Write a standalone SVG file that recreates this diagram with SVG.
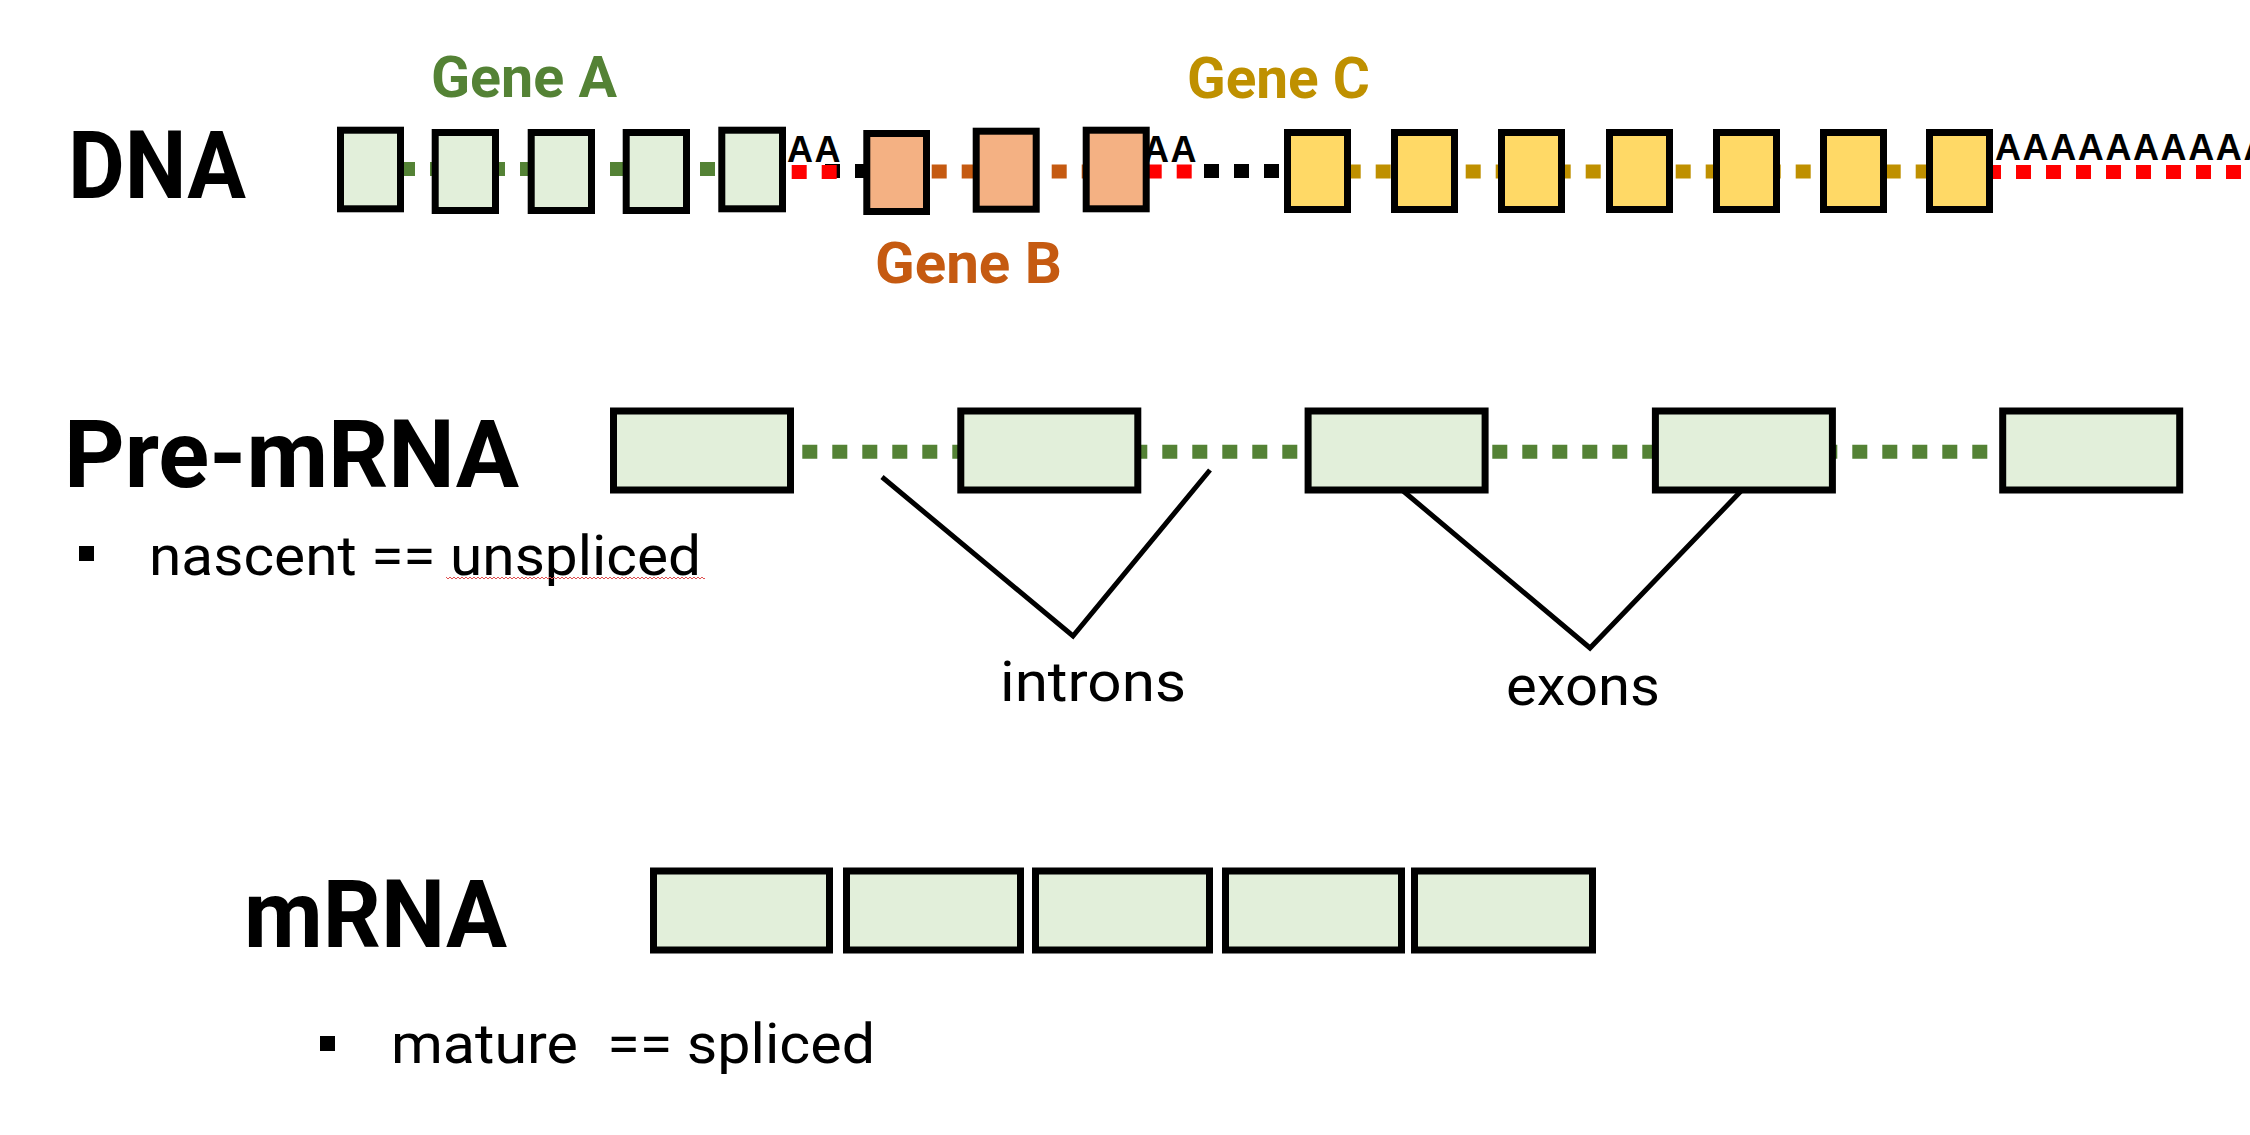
<svg xmlns="http://www.w3.org/2000/svg" width="2250" height="1135" viewBox="0 0 2250 1135">
<defs>
<style>
.bg{fill:#ffffff}
.box{stroke:#000000;stroke-width:7}
.ga{fill:#E2EFDA}
.gb{fill:#F4B183}
.gc{fill:#FFD966}
.dash{stroke-width:14;stroke-dasharray:15 15;fill:none}
.dgreen{stroke:#548235}
.dorange{stroke:#C55A11}
.dyellow{stroke:#BF9000}
.dred{stroke:#FF0000}
.dblack{stroke:#000000}
.vline{stroke:#000000;stroke-width:5;fill:none;stroke-linejoin:miter;stroke-miterlimit:20}
.head{font-family:Roboto,"Liberation Sans",sans-serif;font-weight:bold;font-size:94px;fill:#000000}
.gene{font-family:Roboto,"Liberation Sans",sans-serif;font-weight:bold;font-size:58px}
.poly{font-family:"Liberation Sans",Arial,sans-serif;font-weight:bold;font-size:36px;fill:#000000;letter-spacing:1.6px}
.body{font-family:Roboto,"Liberation Sans",sans-serif;font-size:56px;fill:#000000}
</style>
<pattern id="wavy" x="0" y="0" width="4" height="4" patternUnits="userSpaceOnUse">
<path d="M0,3 L2,1 L4,3" stroke="#E05050" stroke-width="1" fill="none"/>
</pattern>
</defs>
<rect class="bg" x="0" y="0" width="2250" height="1135"/>

<g id="connectors">
<line class="dash dgreen" x1="400" y1="169" x2="716" y2="169"/>
<line class="dash dblack" x1="825" y1="171" x2="870" y2="171"/>
<line class="dash dred" x1="791.7" y1="172" x2="836.7" y2="172"/>
<line class="dash dorange" x1="931.7" y1="171.5" x2="1096.7" y2="171.5"/>
<line class="dash dblack" x1="1204" y1="171" x2="1293" y2="171"/>
<line class="dash dred" x1="1146.7" y1="171.5" x2="1191.7" y2="171.5"/>
<line class="dash dyellow" x1="1285.7" y1="171.5" x2="1930.7" y2="171.5"/>
<line class="dash dred" x1="1986" y1="172" x2="2250" y2="172"/>
<line class="dash dgreen" x1="802.3" y1="451.7" x2="1990" y2="451.7"/>
<polyline class="vline" points="882,477 1073,636 1210,470"/>
<polyline class="vline" points="1402,490 1590,648 1742,490"/>
</g>

<g id="labels">
<text id="lbl-dna" class="head" x="68" y="198" textLength="178" lengthAdjust="spacingAndGlyphs">DNA</text>
<text id="lbl-premrna" class="head" x="64" y="487" textLength="455" lengthAdjust="spacingAndGlyphs">Pre-mRNA</text>
<text id="lbl-mrna" class="head" x="244" y="947" textLength="263" lengthAdjust="spacingAndGlyphs">mRNA</text>
<text id="lbl-genea" class="gene" x="431" y="97" fill="#548235" textLength="186" lengthAdjust="spacingAndGlyphs">Gene A</text>
<text id="lbl-geneb" class="gene" x="875" y="283" fill="#C55A11" textLength="187" lengthAdjust="spacingAndGlyphs">Gene B</text>
<text id="lbl-genec" class="gene" x="1187" y="98" fill="#BF9000" textLength="183" lengthAdjust="spacingAndGlyphs">Gene C</text>
<rect x="79" y="546" width="15" height="15" fill="#000000"/>
<text class="body" x="149" y="575" textLength="552" lengthAdjust="spacingAndGlyphs">nascent == unspliced</text>
<rect x="446" y="577" width="259" height="4" fill="url(#wavy)"/>
<text class="body" x="1000" y="701" textLength="186" lengthAdjust="spacingAndGlyphs">introns</text>
<text class="body" x="1506" y="705" textLength="154" lengthAdjust="spacingAndGlyphs">exons</text>
<rect x="320" y="1036" width="15" height="15" fill="#000000"/>
<text class="body" x="391" y="1063" font-size="55" xml:space="preserve" textLength="484" lengthAdjust="spacingAndGlyphs">mature  == spliced</text>
</g>

<g id="polyA">
<text class="poly" x="787" y="161.5">AA</text>
<text class="poly" x="1143" y="161.5">AA</text>
<text class="poly" x="1995" y="160">AAAAAAAAAA</text>
</g>

<g id="gene-a">
<rect class="box ga" x="340.5" y="130.2" width="60" height="78.6"/>
<rect class="box ga" x="435.2" y="132.5" width="60.3" height="78"/>
<rect class="box ga" x="531.2" y="132.5" width="60.3" height="78"/>
<rect class="box ga" x="626.2" y="132.5" width="60.3" height="78"/>
<rect class="box ga" x="721.8" y="130.2" width="60.7" height="78.6"/>
</g>

<g id="gene-b">
<rect class="box gb" x="866.8" y="133.5" width="59.7" height="78"/>
<rect class="box gb" x="976.2" y="131.2" width="60" height="78"/>
<rect class="box gb" x="1086.2" y="130.2" width="60" height="78.6"/>
</g>

<g id="gene-c">
<rect class="box gc" x="1287.5" y="132.5" width="60" height="77"/>
<rect class="box gc" x="1394.5" y="132.5" width="60" height="77"/>
<rect class="box gc" x="1501.5" y="132.5" width="60" height="77"/>
<rect class="box gc" x="1609.5" y="132.5" width="60" height="77"/>
<rect class="box gc" x="1716.5" y="132.5" width="60" height="77"/>
<rect class="box gc" x="1823.5" y="132.5" width="60" height="77"/>
<rect class="box gc" x="1929.5" y="132.5" width="60" height="77"/>
</g>

<g id="pre-mrna">
<rect class="box ga" x="613.5" y="411" width="177" height="79"/>
<rect class="box ga" x="960.8" y="411" width="177" height="79"/>
<rect class="box ga" x="1308.1" y="411" width="177" height="79"/>
<rect class="box ga" x="1655.4" y="411" width="177" height="79"/>
<rect class="box ga" x="2002.7" y="411" width="177" height="79"/>
</g>

<g id="mrna">
<rect class="box ga" x="653.5" y="871" width="176" height="79"/>
<rect class="box ga" x="846.5" y="871" width="174" height="79"/>
<rect class="box ga" x="1035.5" y="871" width="174" height="79"/>
<rect class="box ga" x="1225.5" y="871" width="176" height="79"/>
<rect class="box ga" x="1414.5" y="871" width="178" height="79"/>
</g>
</svg>
